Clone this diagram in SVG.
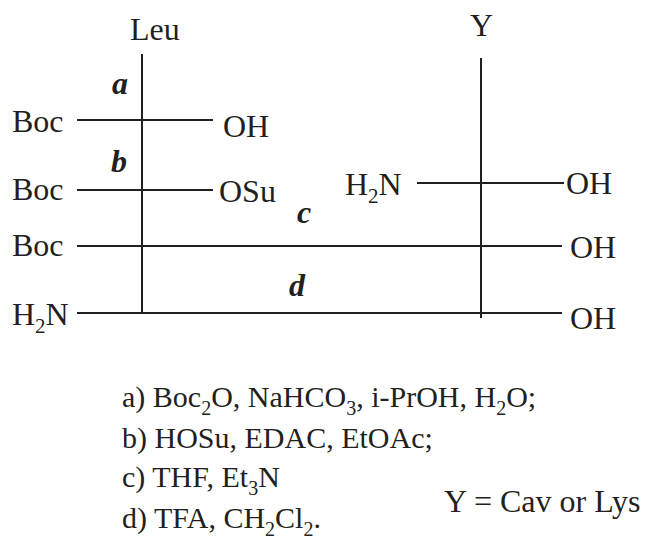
<svg xmlns="http://www.w3.org/2000/svg" width="648" height="542" viewBox="0 0 648 542">
<style>
text{font-family:"Liberation Serif","Times New Roman",serif;font-size:32px;fill:#231f20}
.lbl{font-weight:bold;font-style:italic}
.sub{font-size:21px}
.note{font-size:30px}
.note .sub{font-size:20px}
line{stroke:#231f20;stroke-width:2}
</style>
<rect width="648" height="542" fill="#fff"/>
<g id="connectors">
<line x1="142" y1="54" x2="142" y2="314"/>
<line x1="481" y1="58" x2="481" y2="318"/>
<line x1="77" y1="120" x2="213" y2="120"/>
<line x1="77" y1="190" x2="213" y2="190"/>
<line x1="417" y1="183" x2="564" y2="183"/>
<line x1="77" y1="246" x2="562" y2="246"/>
<line x1="77" y1="313" x2="562" y2="313"/>
</g>
<g id="leu"><text x="130" y="40">Leu</text></g>
<g id="y"><text x="470" y="36">Y</text></g>
<g id="label-a"><text class="lbl" x="112" y="94">a</text></g>
<g id="label-b"><text class="lbl" x="111" y="172">b</text></g>
<g id="label-c"><text class="lbl" x="297" y="223">c</text></g>
<g id="label-d"><text class="lbl" x="289" y="296">d</text></g>
<g id="row1"><text x="12" y="132">Boc</text><text x="223" y="137">OH</text></g>
<g id="row2"><text x="12" y="200">Boc</text><text x="219" y="202">OSu</text></g>
<g id="rowY"><text x="345" y="195">H<tspan class="sub" dy="8">2</tspan><tspan dy="-8">N</tspan></text><text x="566" y="194">OH</text></g>
<g id="row3"><text x="12" y="256">Boc</text><text x="570" y="258">OH</text></g>
<g id="row4"><text x="12" y="325">H<tspan class="sub" dy="8">2</tspan><tspan dy="-8">N</tspan></text><text x="570" y="329">OH</text></g>
<g id="notes">
<text class="note" x="122" y="407">a) Boc<tspan class="sub" dy="8">2</tspan><tspan dy="-8">O, NaHCO</tspan><tspan class="sub" dy="8">3</tspan><tspan dy="-8">, i-PrOH, H</tspan><tspan class="sub" dy="8">2</tspan><tspan dy="-8">O;</tspan></text>
<text class="note" x="122" y="448">b) HOSu, EDAC, EtOAc;</text>
<text class="note" x="122" y="487">c) THF, Et<tspan class="sub" dy="8">3</tspan><tspan dy="-8">N</tspan></text>
<text class="note" x="122" y="528">d) TFA, CH<tspan class="sub" dy="8">2</tspan><tspan dy="-8">Cl</tspan><tspan class="sub" dy="8">2</tspan><tspan dy="-8">.</tspan></text>
<text x="444" y="512">Y = Cav or Lys</text>
</g>
</svg>
